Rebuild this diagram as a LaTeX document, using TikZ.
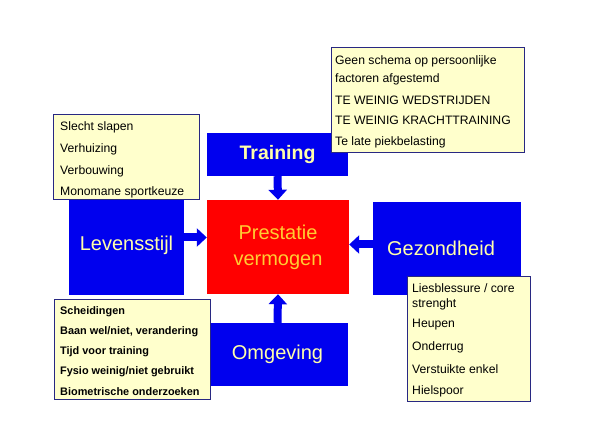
\documentclass[tikz,border=0pt]{standalone}
\usepackage{fontspec}
\setmainfont{Liberation Sans}
\usetikzlibrary{arrows.meta}
\definecolor{boxblue}{RGB}{0,0,238}
\definecolor{boxred}{RGB}{255,0,0}
\definecolor{notefill}{RGB}{255,255,204}
\definecolor{noteborder}{RGB}{40,40,130}
\definecolor{lbltext}{RGB}{255,255,170}
\definecolor{pvtext}{RGB}{255,204,51}
\tikzset{
  bluebox/.style={fill=boxblue, draw=none},
  redbox/.style={fill=boxred, draw=none},
  notebox/.style={fill=notefill, draw=noteborder, line width=1pt},
  lbl/.style={text=lbltext, font=\fontsize{20}{22}\selectfont},
  notetxt/.style={anchor=west, inner sep=0pt, font=\fontsize{12.2}{14}\selectfont, text=black},
  notebold/.style={anchor=west, inner sep=0pt, font=\fontsize{10.9}{13}\selectfont\bfseries, text=black},
  bigarrow/.style={draw=boxblue, line width=8pt, -{Triangle[width=18pt,length=10pt]}}
}
\begin{document}
\begin{tikzpicture}[x=1pt,y=-1pt]
\useasboundingbox (0,0) rectangle (590,443);
\fill[white] (0,0) rectangle (590,443);
% main boxes
\node[bluebox, minimum width=141pt, minimum height=43pt] (train) at (277.5,154.5) {};
\node[lbl, font=\fontsize{19.5}{22}\selectfont\bfseries] (traintxt) at (train.center) {Training};
\node[redbox, minimum width=142pt, minimum height=94pt] (pv) at (278,247) {};
\node[text=pvtext, align=center, font=\fontsize{20}{26}\selectfont] (pvtxt) at (pv.center) {Prestatie\\vermogen};
\node[bluebox, minimum width=115pt, minimum height=99pt] (lev) at (126.5,245.5) {};
\node[lbl] (levtxt) at (lev.center) {Levensstijl};
\node[bluebox, minimum width=148pt, minimum height=93pt] (gez) at (447,248.5) {};
\node[lbl] (geztxt) at ([xshift=-6pt]gez.center) {Gezondheid};
\node[bluebox, minimum width=141pt, minimum height=63pt] (omg) at (277.5,354.5) {};
\node[lbl] (omgtxt) at (omg.center) {Omgeving};
% arrows
\draw[bigarrow] (train.south) -- (pv.north);
\draw[bigarrow] (omg.north) -- (pv.south);
\coordinate (levA) at ([yshift=8pt]lev.east);
\coordinate (gezA) at ([yshift=4pt]gez.west);
\draw[bigarrow] (levA) -- (pv.west |- levA);
\draw[bigarrow] (gezA) -- (pv.east |- gezA);
% notes
\node[notebox, minimum width=146pt, minimum height=85pt] (n1) at (126,157.5) {};
\node[notetxt] (n1a) at (60,127) {Slecht slapen};
\node[notetxt] (n1b) at (60,149) {Verhuizing};
\node[notetxt] (n1c) at (60,171) {Verbouwing};
\node[notetxt] (n1d) at (60,192) {Monomane sportkeuze};
\node[notebox, minimum width=193pt, minimum height=105pt] (n2) at (427.5,100.5) {};
\node[notetxt] (n2a) at (335,61) {Geen schema op persoonlijke};
\node[notetxt] (n2b) at (335,79) {factoren afgestemd};
\node[notetxt] (n2c) at (335,100) {TE WEINIG WEDSTRIJDEN};
\node[notetxt] (n2d) at (335,120) {TE WEINIG KRACHTTRAINING};
\node[notetxt] (n2e) at (335,142) {Te late piekbelasting};
\node[notebox, minimum width=156pt, minimum height=100pt] (n3) at (132,350) {};
\node[notebold] (n3a) at (60,312) {Scheidingen};
\node[notebold] (n3b) at (60,332) {Baan wel/niet, verandering};
\node[notebold] (n3c) at (60,352) {Tijd voor training};
\node[notebold] (n3d) at (60,372) {Fysio weinig/niet gebruikt};
\node[notebold] (n3e) at (60,392) {Biometrische onderzoeken};
\node[notebox, minimum width=123pt, minimum height=125pt] (n4) at (468.5,339.5) {};
\node[notetxt] (n4a) at (412,288) {Liesblessure / core};
\node[notetxt] (n4b) at (412,304) {strenght};
\node[notetxt] (n4c) at (412,325) {Heupen};
\node[notetxt] (n4d) at (412,347) {Onderrug};
\node[notetxt] (n4e) at (412,369) {Verstuikte enkel};
\node[notetxt] (n4f) at (412,391) {Hielspoor};
\end{tikzpicture}
\end{document}
